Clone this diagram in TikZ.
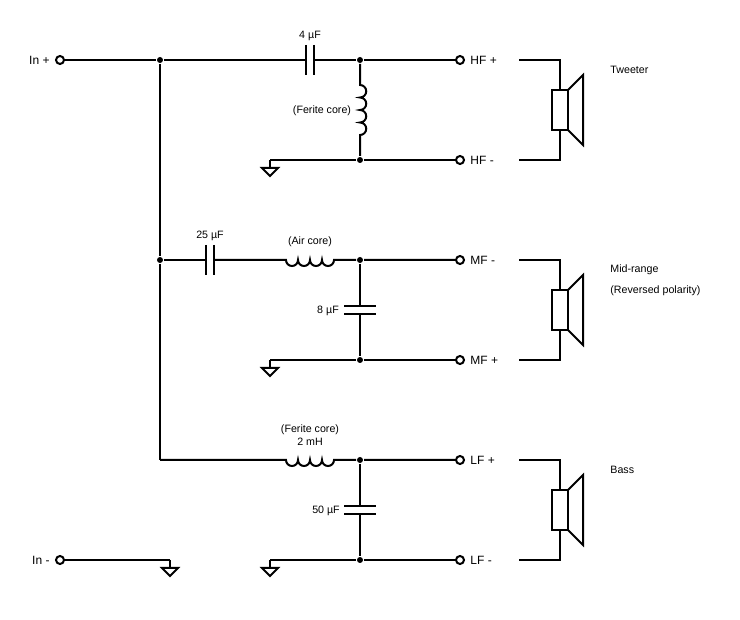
\documentclass[tikz,border=0pt]{standalone}
\usepackage{fontspec}
\setmainfont{Liberation Sans}
\begin{document}
\begin{tikzpicture}[x=0.75pt,y=-0.75pt,line width=1.5pt,
 term/.style={circle,draw,line width=1.5pt,fill=white,inner sep=0pt,minimum size=6pt},
 dot/.style={circle,fill=black,inner sep=0pt,minimum size=4.5pt},
 lbl/.style={font=\fontsize{8}{9}\selectfont},
 tl/.style={font=\fontsize{9}{10}\selectfont}]
\useasboundingbox (0,0) rectangle (740,620);
\tikzset{gnd/.pic={\draw (0,0)--(0,8); \draw (-8,8)--(8,8)--(0,16)--cycle;}}
\newcommand\myspk[1]{%
 \draw (519,#1)--(560,#1)--(560,#1+30); \draw (552,#1+30) rectangle (568,#1+70);
 \draw (568,#1+30)--(583,#1+15)--(583,#1+85)--(568,#1+70); \draw (560,#1+70)--(560,#1+100)--(519,#1+100);}
% Input
\node[term] (inp) at (60,60) {}; \node[tl,left] at (inp.west) {In +};
\node[term] (inm) at (60,560) {}; \node[tl,left] at (inm.west) {In -};
\node[dot] (j1) at (160,60) {};
\node[dot] (j2) at (160,260) {};
\coordinate (j3) at (160,460);
\draw (inp)--(j1); \draw (j1)--(j2)--(j3);
\coordinate (g0) at (170,560);
\draw (inm)--(g0); \pic at (g0) {gnd};
% HF
\node[dot] (h1) at (360,60) {}; \node[dot] (h2) at (360,160) {};
\node[term] (hp) at (460,60) {}; \node[tl,right] at (hp.east) {HF +};
\node[term] (hm) at (460,160) {}; \node[tl,right] at (hm.east) {HF -};
\draw (j1)--(306,60); \draw (306,45)--(306,75); \draw (314,45)--(314,75);
\draw (314,60)--(h1)--(hp);
\node[lbl] at (310,36) {4 µF};
\draw (h1)--(360,85) arc(-90:90:6.25) arc(-90:90:6.25) arc(-90:90:6.25) arc(-90:90:6.25)--(h2);
\node[lbl] at (322,111) {(Ferite core)};
\coordinate (hg) at (270,160);
\draw (hg)--(h2)--(hm); \pic at (hg) {gnd};
\myspk{60}
\node[lbl,right] at (605,70) {Tweeter};
% MF
\node[dot] (m1) at (360,260) {}; \node[dot] (m2) at (360,360) {};
\node[term] (mp) at (460,260) {}; \node[tl,right] at (mp.east) {MF -};
\node[term] (mm) at (460,360) {}; \node[tl,right] at (mm.east) {MF +};
\draw (j2)--(206,260); \draw (206,245)--(206,275); \draw (214,245)--(214,275);
\node[lbl] at (210,236) {25 µF};
\draw (214,260)--(286,260) arc(180:0:6) arc(180:0:6) arc(180:0:6) arc(180:0:6)--(m1)--(mp);
\node[lbl] at (310,242) {(Air core)};
\draw (m1)--(360,306); \draw (344,306)--(376,306); \draw (344,314)--(376,314); \draw (360,314)--(m2);
\node[lbl] at (328,311) {8 µF};
\coordinate (mg) at (270,360);
\draw (mg)--(m2)--(mm); \pic at (mg) {gnd};
\myspk{260}
\node[lbl,right] at (605,270) {Mid-range};
\node[lbl,right] at (605,291) {(Reversed polarity)};
% LF
\node[dot] (l1) at (360,460) {}; \node[dot] (l2) at (360,560) {};
\node[term] (lp) at (460,460) {}; \node[tl,right] at (lp.east) {LF +};
\node[term] (lm) at (460,560) {}; \node[tl,right] at (lm.east) {LF -};
\draw (j3)--(286,460) arc(180:0:6) arc(180:0:6) arc(180:0:6) arc(180:0:6)--(l1)--(lp);
\node[lbl] at (310,430) {(Ferite core)};
\node[lbl] at (310,442) {2 mH};
\draw (l1)--(360,506); \draw (344,506)--(376,506); \draw (344,514)--(376,514); \draw (360,514)--(l2);
\node[lbl] at (326,511) {50 µF};
\coordinate (lg) at (270,560);
\draw (lg)--(l2)--(lm); \pic at (lg) {gnd};
\myspk{460}
\node[lbl,right] at (605,470) {Bass};
\end{tikzpicture}
\end{document}
